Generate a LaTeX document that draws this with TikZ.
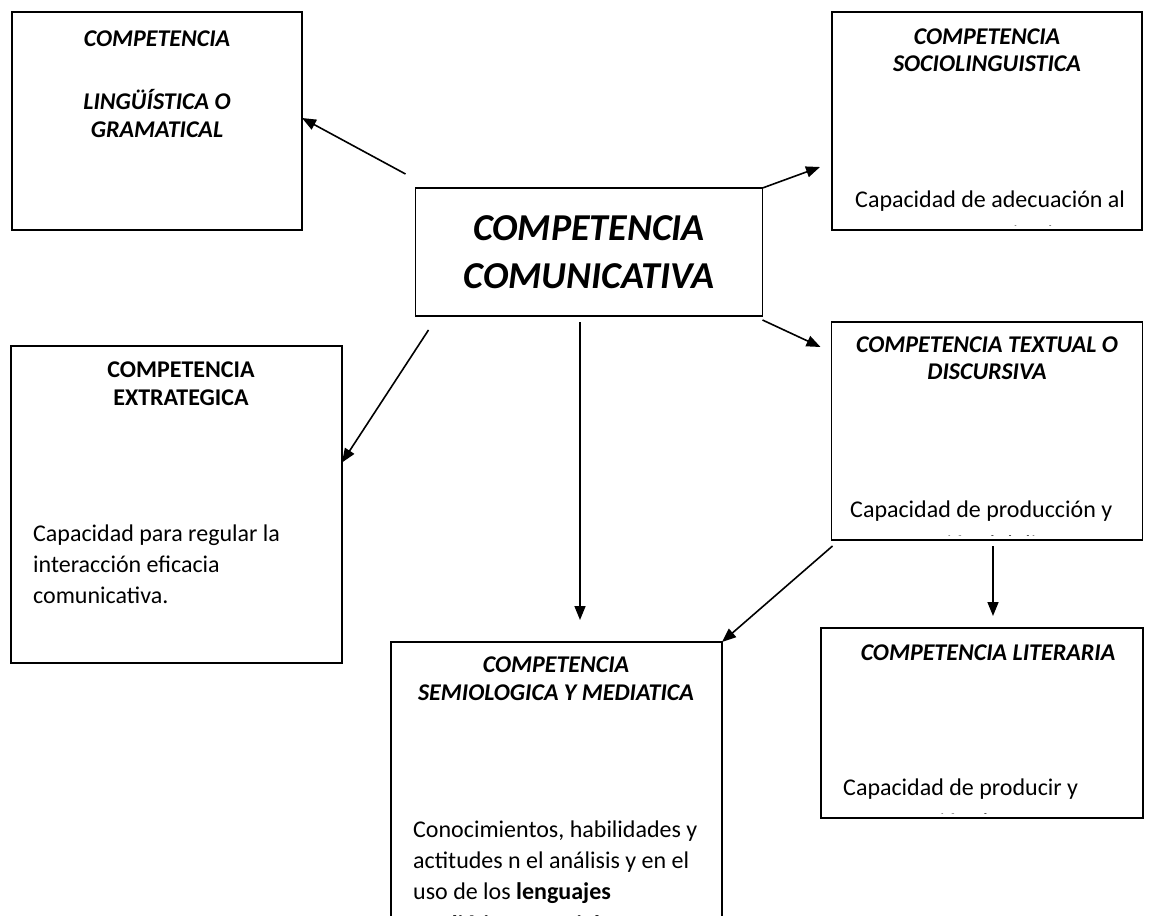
\documentclass[tikz,border=0pt]{standalone}
\usepackage{fontspec}
\setmainfont{Carlito}
\usetikzlibrary{arrows.meta,calc}
\begin{document}
\begin{tikzpicture}[x=1pt,y=-1pt,
  box/.style={draw,line width=1.6pt,inner sep=0pt,outer sep=0pt},
  hd/.style={anchor=base,inner sep=0pt,font=\fontsize{24}{29}\selectfont\bfseries\itshape},
  hdu/.style={anchor=base,inner sep=0pt,font=\fontsize{24}{29}\selectfont\bfseries},
  big/.style={anchor=base,inner sep=0pt,font=\fontsize{38}{48}\selectfont\bfseries\itshape},
  body/.style={anchor=base west,inner sep=0pt,font=\fontsize{24}{31}\selectfont},
  conn/.style={line width=1.6pt,-{Triangle[length=14pt,width=11pt]}}]
\useasboundingbox (0,0) rectangle (1153,915);
% boxes
\node[box,minimum width=290pt,minimum height=218pt] (A) at (157,121) {};
\node[box,minimum width=310pt,minimum height=218pt] (B) at (987,121) {};
\node[box,minimum width=347pt,minimum height=128pt] (M) at (589,252) {};
\node[box,minimum width=311pt,minimum height=218pt] (C) at (987,431) {};
\node[box,minimum width=331pt,minimum height=317pt] (D) at (176.5,504.5) {};
\node[box,minimum width=331pt,minimum height=300pt] (E) at (556.5,792) {};
\node[box,minimum width=322pt,minimum height=190pt] (F) at (982,723) {};
% headings
\node[hd] (A1) at (157,47) {COMPETENCIA};
\node[hd] (A2) at (157,110) {LINGÜÍSTICA O};
\node[hd] (A3) at (157,138) {GRAMATICAL};
\node[hd] (B1) at (987,45) {COMPETENCIA};
\node[hd] (B2) at (987,72) {SOCIOLINGUISTICA};
\node[big] (M1) at (589,240) {COMPETENCIA};
\node[big] (M2) at (589,288) {COMUNICATIVA};
\node[hd] (C1) at (987,352) {COMPETENCIA TEXTUAL O};
\node[hd] (C2) at (987,379) {DISCURSIVA};
\node[hdu] (D1) at (181,377) {COMPETENCIA};
\node[hdu] (D2) at (181,405) {EXTRATEGICA};
\node[hd] (E1) at (556,672) {COMPETENCIA};
\node[hd] (E2) at (556,700) {SEMIOLOGICA Y MEDIATICA};
\node[hd] (F1) at (988,660) {COMPETENCIA LITERARIA};
% body texts
\node[body] (Dt1) at (33,541) {Capacidad para regular la};
\node[body] (Dt2) at (33,572) {interacción eficacia};
\node[body] (Dt3) at (33,603) {comunicativa.};
\begin{scope}
\clip ([shift={(2,2)}]B.north west) rectangle ([shift={(-2,-5)}]B.south east);
\node[body] (Bt1) at (855,207) {Capacidad de adecuación al};
\node[body] (Bt2) at (855,242) {contexto comunicativo};
\end{scope}
\begin{scope}
\clip ([shift={(2,2)}]C.north west) rectangle ([shift={(-2,-5)}]C.south east);
\node[body] (Ct1) at (850,517) {Capacidad de producción y};
\node[body] (Ct2) at (850,552) {comprensión del discurso};
\end{scope}
\begin{scope}
\clip ([shift={(2,2)}]F.north west) rectangle ([shift={(-2,-5)}]F.south east);
\node[body] (Ft1) at (843,795) {Capacidad de producir y};
\node[body] (Ft2) at (843,830) {comprensión de textos};
\end{scope}
\begin{scope}
\clip (0,0) rectangle (1153,915);
\node[body] (Et1) at (413,837) {Conocimientos, habilidades y};
\node[body] (Et2) at (413,868) {actitudes n el análisis y en el};
\node[body] (Et3) at (413,899) {uso de los \textbf{lenguajes}};
\node[body] (Et4) at (413,932) {\textbf{mediáticos y sociales}};
\end{scope}
% connectors
\coordinate (sA) at ([shift={(-10,-14)}]M.north west);
\coordinate (sB) at (M.north east);
\coordinate (sC) at ([shift={(0,4)}]M.south east);
\coordinate (sD) at ([shift={(13,14)}]M.south west);
\coordinate (sE) at ([shift={(-9,6)}]M.south);
\coordinate (sE2) at ([shift={(1,6)}]C.south west);
\coordinate (sF) at ([shift={(6,6)}]C.south);
\draw[conn] (sA) -- ([yshift=3pt]A.east);
\draw[conn] (sB) -- ([shift={(-12,46)}]B.west);
\draw[conn] (sC) -- ([shift={(-11,-84)}]C.west);
\draw[conn] (sD) -- ([yshift=42pt]D.east);
\draw[conn] (sE) -- ([yshift=22pt]sE |- E.north);
\draw[conn] (sE2) -- (E.north east);
\draw[conn] (sF) -- ([yshift=12pt]sF |- F.north);
\end{tikzpicture}
\end{document}
